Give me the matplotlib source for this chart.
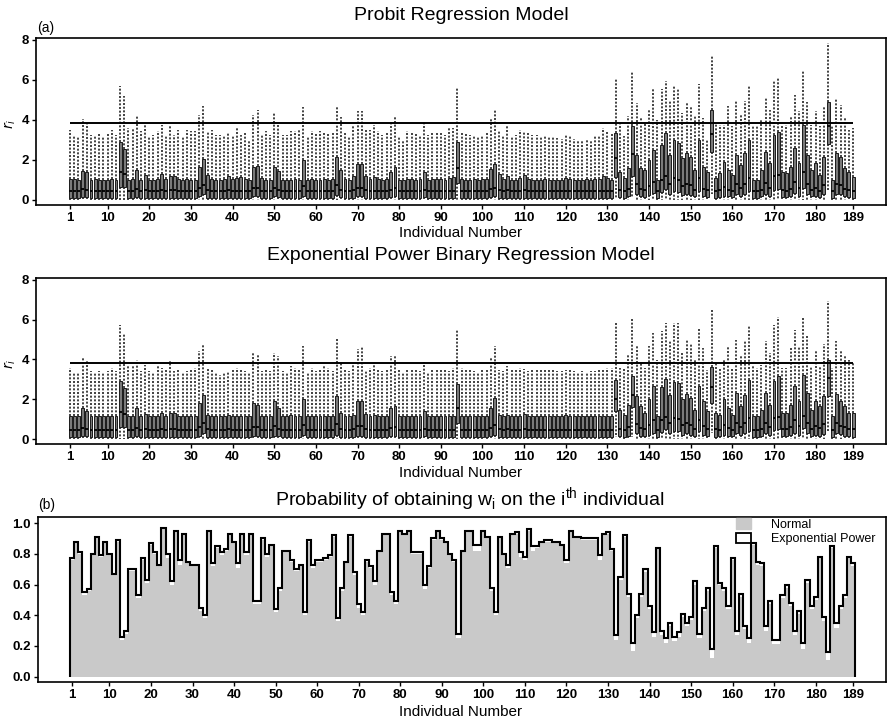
import numpy as np
import matplotlib.pyplot as plt
from matplotlib.patches import Patch

plt.rcParams['font.family'] = ['Liberation Sans', 'DejaVu Sans']

individual = np.arange(1, 190)
x_ticks = [1, 10, 20, 30, 40, 50, 60, 70, 80, 90, 100, 110, 120, 130, 140, 150, 160, 170, 180, 189]
chi2_cut = 3.84

# ---- (a) probit regression model: residual box summaries ----
probit_hi = [
    3.50, 3.25, 3.20, 4.05, 3.83, 3.25, 3.17, 3.33, 3.17, 3.33,
    3.50, 3.25, 5.67, 5.17, 3.58, 3.58, 4.17, 3.42, 3.80, 3.17,
    3.25, 3.42, 3.75, 3.17, 3.70, 3.25, 3.50, 3.17, 3.50, 3.45,
    3.42, 4.25, 4.70, 3.42, 3.50, 3.25, 3.25, 3.25, 3.33, 3.25,
    3.58, 3.25, 3.33, 3.00, 4.25, 4.47, 3.25, 3.42, 3.25, 4.33,
    3.75, 3.25, 3.25, 3.42, 3.42, 3.50, 4.63, 3.17, 3.42, 3.33,
    3.42, 3.33, 3.33, 3.37, 4.70, 4.13, 3.33, 3.20, 3.75, 4.42,
    4.42, 3.50, 3.50, 3.75, 3.42, 3.25, 3.33, 3.92, 4.20, 3.17,
    3.00, 3.42, 3.33, 3.33, 3.25, 3.92, 3.25, 3.37, 3.37, 3.33,
    3.25, 3.58, 3.58, 5.58, 3.33, 3.33, 3.25, 3.25, 3.17, 3.25,
    3.33, 4.08, 4.47, 3.42, 3.25, 3.75, 3.17, 3.25, 3.50, 3.42,
    3.33, 3.25, 3.25, 3.17, 3.17, 3.17, 3.13, 3.08, 3.03, 3.25,
    3.25, 3.03, 3.00, 3.00, 3.00, 3.00, 3.17, 3.25, 3.58, 3.42,
    3.33, 6.08, 3.83, 3.17, 4.17, 6.42, 4.83, 4.08, 3.83, 4.50,
    5.53, 4.00, 5.53, 5.92, 5.00, 5.75, 5.58, 4.33, 4.83, 4.63,
    4.17, 5.80, 4.08, 3.00, 7.25, 3.83, 3.75, 3.75, 4.67, 3.67,
    4.92, 4.25, 4.92, 5.75, 3.67, 3.67, 4.00, 5.08, 4.50, 5.92,
    6.08, 3.75, 3.75, 4.17, 5.25, 4.42, 6.42, 4.87, 3.75, 4.42,
    3.67, 4.67, 7.83, 3.75, 5.03, 4.75, 4.08, 3.47, 3.58]
probit_q3 = [
    1.05, 1.05, 1.00, 1.45, 1.40, 1.00, 1.05, 1.00, 1.00, 1.00,
    1.05, 1.00, 2.90, 2.55, 1.00, 1.05, 1.50, 1.00, 1.25, 1.00,
    1.00, 1.05, 1.30, 1.05, 1.20, 1.20, 1.05, 1.00, 1.05, 1.00,
    1.00, 1.65, 2.05, 1.25, 1.05, 1.00, 1.00, 1.05, 1.20, 1.05,
    1.10, 1.15, 1.05, 1.00, 1.65, 1.70, 1.10, 1.00, 1.00, 1.65,
    1.45, 1.00, 1.00, 1.00, 1.05, 1.00, 2.00, 1.00, 1.05, 1.00,
    1.00, 1.05, 1.00, 1.05, 2.15, 1.50, 1.05, 1.00, 1.20, 1.80,
    1.80, 1.20, 1.05, 1.15, 1.05, 1.00, 1.05, 1.40, 1.65, 1.00,
    1.00, 1.05, 1.05, 1.00, 1.05, 1.40, 1.00, 1.05, 1.05, 1.05,
    1.00, 1.10, 1.15, 2.90, 1.05, 1.00, 1.00, 1.05, 1.00, 1.05,
    1.05, 1.55, 1.80, 1.30, 1.05, 1.20, 1.00, 1.00, 1.10, 1.25,
    1.05, 1.00, 1.00, 1.00, 1.05, 1.00, 1.00, 1.00, 1.00, 1.10,
    1.05, 1.00, 1.00, 1.00, 1.05, 1.00, 1.05, 1.05, 1.20, 1.10,
    1.00, 3.35, 1.42, 1.08, 1.58, 3.70, 2.25, 1.58, 1.50, 2.00,
    2.50, 1.00, 2.75, 3.33, 2.25, 3.00, 2.83, 2.08, 2.33, 2.17,
    1.50, 3.00, 1.67, 1.42, 4.50, 1.08, 1.33, 1.92, 1.50, 1.25,
    2.25, 1.75, 2.33, 3.00, 1.00, 1.00, 1.50, 2.42, 1.83, 3.25,
    3.37, 1.42, 1.33, 1.67, 2.58, 1.83, 3.75, 2.25, 1.50, 1.83,
    1.25, 2.17, 4.87, 1.00, 2.37, 2.17, 1.58, 1.42, 1.17]
probit_med = [
    0.45, 0.45, 0.45, 0.55, 0.50, 0.45, 0.45, 0.45, 0.45, 0.45,
    0.45, 0.45, 1.40, 1.30, 0.45, 0.45, 0.55, 0.45, 0.48, 0.45,
    0.45, 0.45, 0.48, 0.45, 0.48, 0.48, 0.45, 0.45, 0.45, 0.45,
    0.45, 0.60, 0.75, 0.48, 0.45, 0.45, 0.45, 0.45, 0.48, 0.45,
    0.45, 0.45, 0.45, 0.45, 0.60, 0.60, 0.45, 0.45, 0.45, 0.60,
    0.50, 0.45, 0.45, 0.45, 0.45, 0.45, 0.70, 0.45, 0.45, 0.45,
    0.45, 0.45, 0.45, 0.45, 0.75, 0.50, 0.45, 0.45, 0.48, 0.60,
    0.60, 0.48, 0.45, 0.45, 0.45, 0.45, 0.45, 0.50, 0.60, 0.45,
    0.45, 0.45, 0.45, 0.45, 0.45, 0.50, 0.45, 0.45, 0.45, 0.45,
    0.45, 0.45, 0.45, 1.60, 0.45, 0.45, 0.45, 0.45, 0.45, 0.45,
    0.45, 0.55, 0.60, 0.48, 0.45, 0.48, 0.45, 0.45, 0.45, 0.48,
    0.45, 0.45, 0.45, 0.45, 0.45, 0.45, 0.45, 0.45, 0.45, 0.45,
    0.45, 0.45, 0.45, 0.45, 0.45, 0.45, 0.45, 0.45, 0.45, 0.45,
    0.45, 2.10, 0.50, 0.45, 0.55, 2.30, 0.80, 0.55, 0.50, 0.70,
    0.90, 0.45, 1.00, 1.20, 0.80, 1.10, 1.00, 0.70, 0.80, 0.75,
    0.50, 1.10, 0.55, 0.50, 3.30, 0.45, 0.50, 0.65, 0.50, 0.45,
    0.80, 0.60, 0.80, 1.10, 0.45, 0.45, 0.50, 0.85, 0.60, 1.20,
    1.25, 0.50, 0.45, 0.55, 0.90, 0.60, 1.40, 0.80, 0.50, 0.60,
    0.45, 0.75, 3.70, 0.45, 0.80, 0.75, 0.55, 0.50, 0.45]
probit_q1 = [
    0.12, 0.12, 0.12, 0.15, 0.15, 0.12, 0.12, 0.12, 0.12, 0.12,
    0.12, 0.12, 0.65, 0.65, 0.12, 0.12, 0.15, 0.12, 0.12, 0.12,
    0.12, 0.12, 0.12, 0.12, 0.12, 0.12, 0.12, 0.12, 0.12, 0.12,
    0.12, 0.18, 0.30, 0.12, 0.12, 0.12, 0.12, 0.12, 0.12, 0.12,
    0.12, 0.12, 0.12, 0.12, 0.18, 0.18, 0.12, 0.12, 0.12, 0.18,
    0.15, 0.12, 0.12, 0.12, 0.12, 0.12, 0.20, 0.12, 0.12, 0.12,
    0.12, 0.12, 0.12, 0.12, 0.25, 0.15, 0.12, 0.12, 0.12, 0.18,
    0.18, 0.12, 0.12, 0.12, 0.12, 0.12, 0.12, 0.15, 0.18, 0.12,
    0.12, 0.12, 0.12, 0.12, 0.12, 0.15, 0.12, 0.12, 0.12, 0.12,
    0.12, 0.12, 0.12, 0.85, 0.12, 0.12, 0.12, 0.12, 0.12, 0.12,
    0.12, 0.15, 0.20, 0.12, 0.12, 0.12, 0.12, 0.12, 0.12, 0.12,
    0.12, 0.12, 0.12, 0.12, 0.12, 0.12, 0.12, 0.12, 0.12, 0.12,
    0.12, 0.12, 0.12, 0.12, 0.12, 0.12, 0.12, 0.12, 0.12, 0.12,
    0.12, 1.15, 0.15, 0.12, 0.18, 1.20, 0.30, 0.18, 0.15, 0.25,
    0.35, 0.12, 0.40, 0.55, 0.30, 0.45, 0.40, 0.25, 0.30, 0.25,
    0.18, 0.45, 0.20, 0.15, 2.40, 0.12, 0.15, 0.22, 0.18, 0.15,
    0.30, 0.20, 0.30, 0.45, 0.12, 0.12, 0.18, 0.30, 0.22, 0.50,
    0.55, 0.15, 0.15, 0.20, 0.35, 0.22, 0.60, 0.30, 0.18, 0.22,
    0.15, 0.28, 2.80, 0.12, 0.30, 0.28, 0.18, 0.15, 0.12]
probit_lo = [
    0.02, 0.02, 0.02, 0.02, 0.02, 0.02, 0.02, 0.02, 0.02, 0.02,
    0.02, 0.02, 0.02, 0.02, 0.02, 0.02, 0.02, 0.02, 0.02, 0.02,
    0.02, 0.02, 0.02, 0.02, 0.02, 0.02, 0.02, 0.02, 0.02, 0.02,
    0.02, 0.02, 0.02, 0.02, 0.02, 0.02, 0.02, 0.02, 0.02, 0.02,
    0.02, 0.02, 0.02, 0.02, 0.02, 0.02, 0.02, 0.02, 0.02, 0.02,
    0.02, 0.02, 0.02, 0.02, 0.02, 0.02, 0.02, 0.02, 0.02, 0.02,
    0.02, 0.02, 0.02, 0.02, 0.02, 0.02, 0.02, 0.02, 0.02, 0.02,
    0.02, 0.02, 0.02, 0.02, 0.02, 0.02, 0.02, 0.02, 0.02, 0.02,
    0.02, 0.02, 0.02, 0.02, 0.02, 0.02, 0.02, 0.02, 0.02, 0.02,
    0.02, 0.02, 0.02, 0.02, 0.02, 0.02, 0.02, 0.02, 0.02, 0.02,
    0.02, 0.02, 0.02, 0.02, 0.02, 0.02, 0.02, 0.02, 0.02, 0.02,
    0.02, 0.02, 0.02, 0.02, 0.02, 0.02, 0.02, 0.02, 0.02, 0.02,
    0.02, 0.02, 0.02, 0.02, 0.02, 0.02, 0.02, 0.02, 0.02, 0.02,
    0.02, 0.10, 0.02, 0.02, 0.02, 0.10, 0.02, 0.02, 0.02, 0.02,
    0.02, 0.02, 0.02, 0.02, 0.02, 0.02, 0.02, 0.02, 0.02, 0.02,
    0.02, 0.02, 0.02, 0.02, 0.30, 0.02, 0.02, 0.02, 0.02, 0.02,
    0.02, 0.02, 0.02, 0.02, 0.02, 0.02, 0.02, 0.02, 0.02, 0.02,
    0.02, 0.02, 0.02, 0.02, 0.02, 0.02, 0.02, 0.02, 0.02, 0.02,
    0.02, 0.02, 0.50, 0.02, 0.02, 0.02, 0.02, 0.02, 0.02]

# ---- exponential power binary regression model ----
expow_hi = [
    3.56, 3.31, 3.31, 4.07, 3.95, 3.40, 3.31, 3.40, 3.31, 3.40,
    3.56, 3.40, 5.74, 5.32, 3.65, 3.68, 3.98, 3.40, 3.73, 3.40,
    3.31, 3.68, 3.56, 3.48, 3.90, 3.40, 3.48, 3.35, 3.40, 3.51,
    3.56, 4.40, 4.79, 3.56, 3.48, 3.31, 3.23, 3.31, 3.40, 3.48,
    3.56, 3.48, 3.40, 3.31, 4.35, 4.23, 3.40, 3.48, 3.40, 4.32,
    4.15, 3.40, 3.35, 3.68, 3.56, 3.45, 4.69, 3.31, 3.56, 3.40,
    3.45, 3.65, 3.56, 3.40, 5.02, 3.85, 3.48, 3.40, 3.82, 4.52,
    4.69, 3.48, 3.56, 3.82, 3.48, 3.40, 3.48, 4.15, 4.23, 3.48,
    3.35, 3.48, 3.45, 3.45, 3.40, 3.85, 3.31, 3.51, 3.51, 3.51,
    3.51, 3.40, 3.56, 5.52, 3.56, 3.48, 3.48, 3.40, 3.35, 3.48,
    3.48, 4.07, 4.69, 3.48, 3.40, 3.65, 3.45, 3.51, 3.56, 3.51,
    3.40, 3.48, 3.45, 3.45, 3.45, 3.48, 3.45, 3.40, 3.40, 3.45,
    3.48, 3.40, 3.35, 3.40, 3.35, 3.40, 3.40, 3.48, 3.51, 3.56,
    3.56, 5.82, 3.56, 3.56, 4.23, 6.08, 4.74, 3.82, 3.56, 4.69,
    5.32, 3.98, 5.41, 5.82, 4.99, 5.82, 5.82, 4.32, 4.99, 4.79,
    3.95, 5.52, 4.57, 3.48, 6.46, 3.82, 3.56, 3.98, 4.65, 3.56,
    4.99, 4.23, 4.99, 5.74, 3.65, 3.56, 3.73, 4.90, 4.32, 5.74,
    6.13, 3.56, 3.56, 4.57, 5.49, 4.65, 6.08, 5.15, 3.65, 4.49,
    3.65, 4.79, 6.91, 3.56, 4.90, 4.49, 4.15, 3.98, 3.85]
expow_q3 = [
    1.14, 1.14, 1.14, 1.56, 1.40, 1.14, 1.14, 1.14, 1.14, 1.14,
    1.14, 1.14, 2.90, 2.56, 1.14, 1.14, 1.56, 1.14, 1.25, 1.14,
    1.14, 1.14, 1.30, 1.14, 1.30, 1.30, 1.14, 1.14, 1.14, 1.14,
    1.14, 1.80, 2.20, 1.20, 1.14, 1.14, 1.14, 1.14, 1.20, 1.14,
    1.14, 1.14, 1.14, 1.14, 1.80, 1.70, 1.14, 1.14, 1.14, 1.90,
    1.55, 1.14, 1.14, 1.20, 1.14, 1.14, 2.00, 1.14, 1.14, 1.14,
    1.14, 1.14, 1.14, 1.14, 2.14, 1.30, 1.14, 1.14, 1.20, 1.90,
    1.90, 1.25, 1.14, 1.20, 1.14, 1.14, 1.14, 1.56, 1.64, 1.14,
    1.14, 1.14, 1.14, 1.14, 1.14, 1.40, 1.14, 1.14, 1.14, 1.14,
    1.14, 1.14, 1.14, 2.78, 1.14, 1.14, 1.14, 1.14, 1.14, 1.14,
    1.14, 1.56, 2.06, 1.20, 1.14, 1.20, 1.14, 1.14, 1.14, 1.25,
    1.14, 1.14, 1.14, 1.14, 1.14, 1.14, 1.14, 1.14, 1.14, 1.20,
    1.14, 1.14, 1.14, 1.14, 1.14, 1.14, 1.14, 1.14, 1.14, 1.14,
    1.14, 2.95, 1.47, 1.20, 1.72, 3.15, 2.14, 1.64, 1.30, 2.00,
    2.64, 1.14, 2.61, 3.00, 2.23, 2.85, 2.81, 2.00, 2.28, 2.06,
    1.47, 2.64, 1.90, 1.40, 3.60, 1.30, 1.20, 2.00, 1.56, 1.22,
    2.30, 1.64, 2.23, 2.98, 1.14, 1.14, 1.47, 2.30, 1.72, 2.90,
    3.15, 1.30, 1.30, 1.72, 2.64, 1.90, 3.23, 2.30, 1.47, 1.90,
    1.64, 2.14, 3.95, 1.14, 2.28, 1.90, 1.64, 1.30, 1.30]
expow_med = [
    0.45, 0.45, 0.45, 0.55, 0.50, 0.45, 0.45, 0.45, 0.45, 0.45,
    0.45, 0.45, 1.35, 1.25, 0.45, 0.45, 0.55, 0.45, 0.48, 0.45,
    0.45, 0.45, 0.48, 0.45, 0.48, 0.48, 0.45, 0.45, 0.45, 0.45,
    0.45, 0.62, 0.78, 0.48, 0.45, 0.45, 0.45, 0.45, 0.48, 0.45,
    0.45, 0.45, 0.45, 0.45, 0.62, 0.60, 0.45, 0.45, 0.45, 0.65,
    0.52, 0.45, 0.45, 0.45, 0.45, 0.45, 0.70, 0.45, 0.45, 0.45,
    0.45, 0.45, 0.45, 0.45, 0.75, 0.48, 0.45, 0.45, 0.48, 0.65,
    0.65, 0.48, 0.45, 0.45, 0.45, 0.45, 0.45, 0.55, 0.58, 0.45,
    0.45, 0.45, 0.45, 0.45, 0.45, 0.50, 0.45, 0.45, 0.45, 0.45,
    0.45, 0.45, 0.45, 1.55, 0.45, 0.45, 0.45, 0.45, 0.45, 0.45,
    0.45, 0.55, 0.70, 0.48, 0.45, 0.48, 0.45, 0.45, 0.45, 0.48,
    0.45, 0.45, 0.45, 0.45, 0.45, 0.45, 0.45, 0.45, 0.45, 0.45,
    0.45, 0.45, 0.45, 0.45, 0.45, 0.45, 0.45, 0.45, 0.45, 0.45,
    0.45, 2.00, 0.50, 0.45, 0.58, 2.20, 0.75, 0.55, 0.48, 0.70,
    0.95, 0.45, 0.95, 1.10, 0.80, 1.05, 1.00, 0.70, 0.80, 0.72,
    0.50, 0.95, 0.65, 0.50, 2.60, 0.48, 0.45, 0.70, 0.55, 0.45,
    0.80, 0.58, 0.80, 1.05, 0.45, 0.45, 0.50, 0.80, 0.60, 1.05,
    1.10, 0.48, 0.48, 0.60, 0.95, 0.65, 1.15, 0.80, 0.50, 0.65,
    0.55, 0.75, 3.05, 0.45, 0.80, 0.65, 0.58, 0.48, 0.48]
expow_q1 = [
    0.10, 0.10, 0.10, 0.14, 0.14, 0.10, 0.10, 0.10, 0.10, 0.10,
    0.10, 0.10, 0.60, 0.60, 0.10, 0.10, 0.14, 0.10, 0.10, 0.10,
    0.10, 0.10, 0.10, 0.10, 0.10, 0.10, 0.10, 0.10, 0.10, 0.10,
    0.10, 0.16, 0.28, 0.10, 0.10, 0.10, 0.10, 0.10, 0.10, 0.10,
    0.10, 0.10, 0.10, 0.10, 0.16, 0.16, 0.10, 0.10, 0.10, 0.16,
    0.14, 0.10, 0.10, 0.10, 0.10, 0.10, 0.18, 0.10, 0.10, 0.10,
    0.10, 0.10, 0.10, 0.10, 0.22, 0.12, 0.10, 0.10, 0.10, 0.16,
    0.16, 0.10, 0.10, 0.10, 0.10, 0.10, 0.10, 0.14, 0.16, 0.10,
    0.10, 0.10, 0.10, 0.10, 0.10, 0.14, 0.10, 0.10, 0.10, 0.10,
    0.10, 0.10, 0.10, 0.80, 0.10, 0.10, 0.10, 0.10, 0.10, 0.10,
    0.10, 0.14, 0.18, 0.10, 0.10, 0.10, 0.10, 0.10, 0.10, 0.10,
    0.10, 0.10, 0.10, 0.10, 0.10, 0.10, 0.10, 0.10, 0.10, 0.10,
    0.10, 0.10, 0.10, 0.10, 0.10, 0.10, 0.10, 0.10, 0.10, 0.10,
    0.10, 1.40, 0.14, 0.10, 0.16, 1.60, 0.28, 0.16, 0.14, 0.22,
    0.32, 0.10, 0.36, 0.50, 0.28, 0.42, 0.38, 0.22, 0.28, 0.22,
    0.16, 0.40, 0.18, 0.14, 1.80, 0.10, 0.14, 0.20, 0.16, 0.14,
    0.28, 0.18, 0.28, 0.42, 0.10, 0.10, 0.16, 0.28, 0.20, 0.45,
    0.50, 0.14, 0.14, 0.18, 0.32, 0.20, 0.55, 0.28, 0.16, 0.20,
    0.14, 0.25, 2.15, 0.10, 0.28, 0.25, 0.16, 0.14, 0.10]
expow_lo = [
    0.02, 0.02, 0.02, 0.02, 0.02, 0.02, 0.02, 0.02, 0.02, 0.02,
    0.02, 0.02, 0.02, 0.02, 0.02, 0.02, 0.02, 0.02, 0.02, 0.02,
    0.02, 0.02, 0.02, 0.02, 0.02, 0.02, 0.02, 0.02, 0.02, 0.02,
    0.02, 0.02, 0.02, 0.02, 0.02, 0.02, 0.02, 0.02, 0.02, 0.02,
    0.02, 0.02, 0.02, 0.02, 0.02, 0.02, 0.02, 0.02, 0.02, 0.02,
    0.02, 0.02, 0.02, 0.02, 0.02, 0.02, 0.02, 0.02, 0.02, 0.02,
    0.02, 0.02, 0.02, 0.02, 0.02, 0.02, 0.02, 0.02, 0.02, 0.02,
    0.02, 0.02, 0.02, 0.02, 0.02, 0.02, 0.02, 0.02, 0.02, 0.02,
    0.02, 0.02, 0.02, 0.02, 0.02, 0.02, 0.02, 0.02, 0.02, 0.02,
    0.02, 0.02, 0.02, 0.02, 0.02, 0.02, 0.02, 0.02, 0.02, 0.02,
    0.02, 0.02, 0.02, 0.02, 0.02, 0.02, 0.02, 0.02, 0.02, 0.02,
    0.02, 0.02, 0.02, 0.02, 0.02, 0.02, 0.02, 0.02, 0.02, 0.02,
    0.02, 0.02, 0.02, 0.02, 0.02, 0.02, 0.02, 0.02, 0.02, 0.02,
    0.02, 0.10, 0.02, 0.02, 0.02, 0.10, 0.02, 0.02, 0.02, 0.02,
    0.02, 0.02, 0.02, 0.02, 0.02, 0.02, 0.02, 0.02, 0.02, 0.02,
    0.02, 0.02, 0.02, 0.02, 0.30, 0.02, 0.02, 0.02, 0.02, 0.02,
    0.02, 0.02, 0.02, 0.02, 0.02, 0.02, 0.02, 0.02, 0.02, 0.02,
    0.02, 0.02, 0.02, 0.02, 0.02, 0.02, 0.02, 0.02, 0.02, 0.02,
    0.02, 0.02, 0.40, 0.02, 0.02, 0.02, 0.02, 0.02, 0.02]

# ---- (b) probability of obtaining w_i ----
normal_prob = [
    0.76, 0.87, 0.80, 0.53, 0.56, 0.79, 0.90, 0.78, 0.87, 0.79,
    0.66, 0.88, 0.24, 0.28, 0.69, 0.69, 0.51, 0.76, 0.61, 0.86,
    0.80, 0.72, 0.96, 0.77, 0.60, 0.94, 0.73, 0.92, 0.74, 0.72,
    0.72, 0.43, 0.38, 0.94, 0.72, 0.84, 0.79, 0.82, 0.92, 0.87,
    0.71, 0.92, 0.79, 0.92, 0.47, 0.47, 0.89, 0.78, 0.85, 0.42,
    0.56, 0.81, 0.81, 0.75, 0.69, 0.72, 0.40, 0.88, 0.71, 0.75,
    0.75, 0.76, 0.78, 0.91, 0.36, 0.56, 0.74, 0.91, 0.66, 0.45,
    0.40, 0.75, 0.71, 0.60, 0.81, 0.92, 0.92, 0.53, 0.47, 0.94,
    0.92, 0.94, 0.80, 0.80, 0.80, 0.57, 0.71, 0.89, 0.94, 0.89,
    0.87, 0.79, 0.75, 0.25, 0.81, 0.94, 0.94, 0.82, 0.82, 0.94,
    0.90, 0.56, 0.40, 0.90, 0.79, 0.71, 0.92, 0.93, 0.78, 0.76,
    0.95, 0.82, 0.84, 0.87, 0.88, 0.88, 0.87, 0.87, 0.85, 0.74,
    0.94, 0.90, 0.90, 0.89, 0.89, 0.89, 0.89, 0.76, 0.92, 0.93,
    0.82, 0.24, 0.63, 0.91, 0.52, 0.17, 0.38, 0.52, 0.68, 0.44,
    0.26, 0.83, 0.27, 0.22, 0.33, 0.23, 0.26, 0.39, 0.33, 0.37,
    0.60, 0.25, 0.43, 0.56, 0.12, 0.84, 0.60, 0.56, 0.44, 0.76,
    0.27, 0.52, 0.31, 0.22, 0.86, 0.73, 0.72, 0.30, 0.47, 0.21,
    0.21, 0.51, 0.58, 0.46, 0.27, 0.41, 0.18, 0.61, 0.44, 0.50,
    0.77, 0.36, 0.11, 0.84, 0.32, 0.44, 0.51, 0.77, 0.72]
expow_prob = [
    0.77, 0.88, 0.81, 0.55, 0.57, 0.80, 0.91, 0.79, 0.88, 0.80,
    0.67, 0.89, 0.26, 0.30, 0.70, 0.70, 0.53, 0.77, 0.63, 0.87,
    0.81, 0.73, 0.97, 0.80, 0.62, 0.95, 0.76, 0.93, 0.75, 0.73,
    0.73, 0.45, 0.40, 0.95, 0.74, 0.85, 0.81, 0.83, 0.93, 0.88,
    0.74, 0.93, 0.81, 0.93, 0.49, 0.49, 0.90, 0.80, 0.86, 0.44,
    0.58, 0.82, 0.82, 0.76, 0.70, 0.73, 0.42, 0.89, 0.73, 0.76,
    0.76, 0.77, 0.79, 0.92, 0.38, 0.58, 0.75, 0.92, 0.68, 0.47,
    0.42, 0.76, 0.72, 0.62, 0.82, 0.93, 0.93, 0.55, 0.49, 0.95,
    0.93, 0.95, 0.81, 0.81, 0.81, 0.60, 0.72, 0.90, 0.95, 0.90,
    0.88, 0.80, 0.76, 0.28, 0.82, 0.95, 0.95, 0.86, 0.86, 0.95,
    0.91, 0.58, 0.42, 0.91, 0.80, 0.73, 0.93, 0.94, 0.81, 0.78,
    0.96, 0.85, 0.85, 0.88, 0.89, 0.89, 0.88, 0.88, 0.86, 0.76,
    0.95, 0.91, 0.91, 0.90, 0.90, 0.90, 0.90, 0.79, 0.93, 0.94,
    0.83, 0.27, 0.65, 0.92, 0.54, 0.22, 0.40, 0.54, 0.70, 0.46,
    0.29, 0.84, 0.30, 0.25, 0.35, 0.26, 0.29, 0.41, 0.35, 0.39,
    0.62, 0.28, 0.45, 0.58, 0.18, 0.85, 0.61, 0.58, 0.46, 0.77,
    0.30, 0.54, 0.33, 0.25, 0.87, 0.75, 0.74, 0.33, 0.49, 0.24,
    0.24, 0.53, 0.60, 0.48, 0.30, 0.43, 0.22, 0.63, 0.46, 0.52,
    0.78, 0.39, 0.16, 0.85, 0.35, 0.46, 0.53, 0.78, 0.74]

W, H = 888, 722
fig = plt.figure(figsize=(W / 100, H / 100), dpi=100)


def axes_px(left, top, right, bottom):
    return fig.add_axes([left / W, 1 - bottom / H, (right - left) / W, (bottom - top) / H])


def style_axes(ax):
    for s in ax.spines.values():
        s.set_linewidth(1.2)
    ax.tick_params(direction='out', length=3, width=1, pad=2, labelsize=9.5)
    for lab in ax.get_xticklabels() + ax.get_yticklabels():
        lab.set_fontweight('bold')


def residual_panel(ax, lo, q1, med, q3, hi):
    stats = [dict(whislo=a, q1=b, med=c, q3=d, whishi=e, fliers=[])
             for a, b, c, d, e in zip(lo, q1, med, q3, hi)]
    ax.bxp(stats, positions=individual, widths=0.7, patch_artist=True,
           showcaps=False, showfliers=False, manage_ticks=False,
           boxprops=dict(facecolor='#7a7a7a', edgecolor='#1a1a1a', linewidth=0.7),
           whiskerprops=dict(color='#222222', linestyle=(0, (1.2, 1.0)), linewidth=1.2),
           medianprops=dict(color='black', linewidth=1.3))
    ax.hlines(chi2_cut, 1, 189, color='black', linewidth=1.4, zorder=5)
    ax.set_xlim(-7.2, 196.9)
    ax.set_ylim(-0.25, 8.085)
    ax.set_xticks(x_ticks)
    ax.set_yticks([0, 2, 4, 6, 8])
    style_axes(ax)


ax1 = axes_px(36, 38, 886, 205)
residual_panel(ax1, probit_lo, probit_q1, probit_med, probit_q3, probit_hi)
ax2 = axes_px(36, 278, 886, 444)
residual_panel(ax2, expow_lo, expow_q1, expow_med, expow_q3, expow_hi)

ax3 = axes_px(38, 517, 886, 682)
edges = np.arange(0.5, 190.5, 1.0)
ax3.stairs(normal_prob, edges, baseline=0, fill=True, facecolor='#c9c9c9')
ax3.stairs(expow_prob, edges, baseline=0, fill=True, facecolor='none',
           edgecolor='black', linewidth=1.5)
ax3.set_xlim(-7.2, 196.9)
ax3.set_ylim(-0.035, 1.04)
ax3.set_xticks(x_ticks)
ax3.set_yticks([0.0, 0.2, 0.4, 0.6, 0.8, 1.0])
ax3.set_yticklabels(['0.0', '0.2', '0.4', '0.6', '0.8', '1.0'])
style_axes(ax3)
ax3.legend(handles=[Patch(facecolor='#c9c9c9', edgecolor='#c9c9c9', label='Normal'),
                    Patch(facecolor='white', edgecolor='black', linewidth=1.3,
                          label='Exponential Power')],
           loc='upper right', bbox_to_anchor=(0.995, 1.03), frameon=False,
           fontsize=9, handlelength=1.2, handleheight=0.9, handletextpad=1.6,
           labelspacing=0.15, borderpad=0)

# titles and labels
fig.text(461 / W, 1 - 15 / H, 'Probit Regression Model', ha='center', va='center', fontsize=14)
fig.text(461 / W, 1 - 255 / H, 'Exponential Power Binary Regression Model',
         ha='center', va='center', fontsize=14)
fig.text(470 / W, 1 - 500 / H,
         r'Probability of obtaining w$_\mathregular{i}$ on the i$^\mathregular{th}$ individual',
         ha='center', va='center', fontsize=14)
for yc in (233, 473, 712):
    fig.text(461 / W, 1 - yc / H, 'Individual Number', ha='center', va='center', fontsize=11)
fig.text(37 / W, 1 - 28 / H, '(a)', ha='left', va='center', fontsize=10)
fig.text(38 / W, 1 - 505 / H, '(b)', ha='left', va='center', fontsize=10)
for yc in (124, 364):
    fig.text(10 / W, 1 - yc / H, r'$r_i$', rotation=90, ha='center', va='center', fontsize=10)

fig.savefig('out.png', dpi=100)
